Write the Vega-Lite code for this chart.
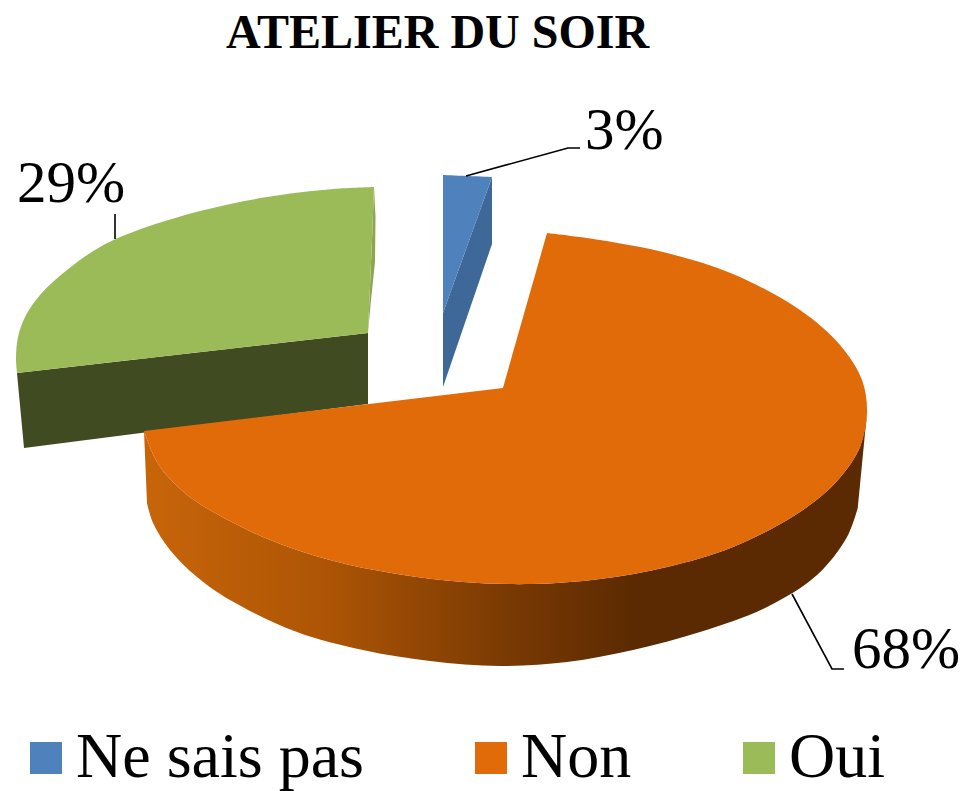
{"$schema":"https://vega.github.io/schema/vega-lite/v6.json","width":963,"height":791,"autosize":"none","padding":0,"background":"white","config":{"view":{"stroke":null}},
"title":{"text":"ATELIER DU SOIR","font":"Liberation Serif","fontSize":48,"fontWeight":"bold","color":"#000000","anchor":"middle","offset":-58,"dx":-44,"dy":0},
"datasets":{
"greenFront":[{"i":0,"x":17,"y":373},{"i":1,"x":368,"y":333},{"i":2,"x":368,"y":404},{"i":3,"x":24,"y":448}],
"greenSliver":[{"i":0,"x":374,"y":187},{"i":1,"x":375.5,"y":217},{"i":2,"x":375,"y":262},{"i":3,"x":371,"y":300},{"i":4,"x":368,"y":333},{"i":5,"x":372,"y":240}],
"blueDark":[{"i":0,"x":492,"y":177},{"i":1,"x":492,"y":244},{"i":2,"x":443,"y":387},{"i":3,"x":443,"y":313}],
"orangeSide":[{"i":0,"x":144,"y":431},{"i":1,"x":144,"y":431},{"i":2,"x":157,"y":462},{"i":3,"x":173,"y":482},{"i":4,"x":197,"y":502},{"i":5,"x":263,"y":537},{"i":6,"x":330,"y":560},{"i":7,"x":397,"y":574},{"i":8,"x":463,"y":582},{"i":9,"x":533,"y":584},{"i":10,"x":600,"y":579},{"i":11,"x":667,"y":567},{"i":12,"x":733,"y":547},{"i":13,"x":800,"y":512},{"i":14,"x":838,"y":480},{"i":15,"x":860,"y":447},{"i":16,"x":867,"y":413},{"i":17,"x":867,"y":413},{"i":18,"x":858,"y":507},{"i":19,"x":858,"y":507},{"i":20,"x":847,"y":537},{"i":21,"x":817,"y":575},{"i":22,"x":767,"y":607},{"i":23,"x":700,"y":632},{"i":24,"x":633,"y":650},{"i":25,"x":567,"y":662},{"i":26,"x":500,"y":666},{"i":27,"x":430,"y":661},{"i":28,"x":363,"y":650},{"i":29,"x":297,"y":632},{"i":30,"x":230,"y":600},{"i":31,"x":197,"y":577},{"i":32,"x":170,"y":550},{"i":33,"x":153,"y":523},{"i":34,"x":147,"y":503},{"i":35,"x":147,"y":503}],
"faces":[
{"series":"Oui","i":0,"x":374,"y":187},{"series":"Oui","i":1,"x":374,"y":187},{"series":"Oui","i":2,"x":333,"y":189},{"series":"Oui","i":3,"x":267,"y":197},{"series":"Oui","i":4,"x":200,"y":211},{"series":"Oui","i":5,"x":133,"y":232},{"series":"Oui","i":6,"x":100,"y":247},{"series":"Oui","i":7,"x":67,"y":270},{"series":"Oui","i":8,"x":40,"y":295},{"series":"Oui","i":9,"x":25,"y":317},{"series":"Oui","i":10,"x":18,"y":337},{"series":"Oui","i":11,"x":16,"y":358},{"series":"Oui","i":12,"x":17,"y":373},{"series":"Oui","i":13,"x":17,"y":373},{"series":"Oui","i":14,"x":368,"y":333},{"series":"Oui","i":15,"x":368,"y":333},{"series":"Oui","i":16,"x":372,"y":240},
{"series":"Ne sais pas","i":0,"x":443,"y":175},{"series":"Ne sais pas","i":1,"x":443,"y":175},{"series":"Ne sais pas","i":2,"x":492,"y":177},{"series":"Ne sais pas","i":3,"x":492,"y":177},{"series":"Ne sais pas","i":4,"x":443,"y":313},
{"series":"Non","i":0,"x":503,"y":388},{"series":"Non","i":1,"x":503,"y":388},{"series":"Non","i":2,"x":547,"y":233},{"series":"Non","i":3,"x":547,"y":233},{"series":"Non","i":4,"x":600,"y":240},{"series":"Non","i":5,"x":667,"y":253},{"series":"Non","i":6,"x":733,"y":274},{"series":"Non","i":7,"x":800,"y":310},{"series":"Non","i":8,"x":840,"y":345},{"series":"Non","i":9,"x":862,"y":380},{"series":"Non","i":10,"x":867,"y":413},{"series":"Non","i":11,"x":860,"y":447},{"series":"Non","i":12,"x":838,"y":480},{"series":"Non","i":13,"x":800,"y":512},{"series":"Non","i":14,"x":733,"y":547},{"series":"Non","i":15,"x":667,"y":567},{"series":"Non","i":16,"x":600,"y":579},{"series":"Non","i":17,"x":533,"y":584},{"series":"Non","i":18,"x":463,"y":582},{"series":"Non","i":19,"x":397,"y":574},{"series":"Non","i":20,"x":330,"y":560},{"series":"Non","i":21,"x":263,"y":537},{"series":"Non","i":22,"x":197,"y":502},{"series":"Non","i":23,"x":173,"y":482},{"series":"Non","i":24,"x":157,"y":462},{"series":"Non","i":25,"x":144,"y":431},{"series":"Non","i":26,"x":144,"y":431}],
"leaders":[{"g":"a","i":0,"x":466,"y":176},{"g":"a","i":1,"x":568,"y":148},{"g":"a","i":2,"x":580,"y":148},{"g":"b","i":0,"x":115,"y":239},{"g":"b","i":1,"x":115,"y":214},{"g":"c","i":0,"x":792,"y":594},{"g":"c","i":1,"x":832,"y":669},{"g":"c","i":2,"x":844,"y":669}],
"labels":[{"label":"3%","x":585,"y":149},{"label":"29%","x":17,"y":202},{"label":"68%","x":852,"y":668}]
},
"encoding":{"x":{"field":"x","type":"quantitative","scale":{"domain":[0,963]},"axis":null},"y":{"field":"y","type":"quantitative","scale":{"domain":[791,0]},"axis":null}},
"layer":[
{"data":{"name":"greenFront"},"mark":{"type":"line","filled":true,"fill":"#414b22","strokeWidth":0},"encoding":{"order":{"field":"i"}}},
{"data":{"name":"greenSliver"},"mark":{"type":"line","filled":true,"fill":"#8aa651","strokeWidth":0},"encoding":{"order":{"field":"i"}}},
{"data":{"name":"blueDark"},"mark":{"type":"line","filled":true,"fill":"#3e6897","strokeWidth":0},"encoding":{"order":{"field":"i"}}},
{"data":{"name":"orangeSide"},"mark":{"type":"line","interpolate":"catmull-rom","filled":true,"strokeWidth":0,"fill":{"gradient":"linear","x1":0,"y1":0,"x2":1,"y2":0,"stops":[{"offset":0,"color":"#c8650a"},{"offset":0.25,"color":"#ad5505"},{"offset":0.5,"color":"#7a3a03"},{"offset":0.68,"color":"#5b2a02"},{"offset":1,"color":"#5b2a02"}]}},"encoding":{"order":{"field":"i"}}},
{"data":{"name":"faces"},"mark":{"type":"line","interpolate":"catmull-rom","filled":true,"strokeWidth":0},"encoding":{"order":{"field":"i"},"color":{"field":"series","type":"nominal","scale":{"domain":["Ne sais pas","Non","Oui"],"range":["#4f81bd","#e06b08","#9bbb59"]},"legend":{"title":null,"orient":"none","legendX":14,"legendY":726,"padding":0,"direction":"horizontal","columns":3,"columnPadding":95,"symbolType":"square","symbolSize":1024,"symbolStrokeWidth":0,"labelFont":"Liberation Serif","labelFontSize":64,"labelColor":"#000000","labelOffset":-2,"labelLimit":400}}}},
{"data":{"name":"leaders"},"mark":{"type":"line","color":"#000000","strokeWidth":1.6},"encoding":{"order":{"field":"i"},"detail":{"field":"g"}}},
{"data":{"name":"labels"},"mark":{"type":"text","font":"Liberation Serif","fontSize":59,"align":"left","baseline":"alphabetic","color":"#000000"},"encoding":{"text":{"field":"label"}}}
]}
